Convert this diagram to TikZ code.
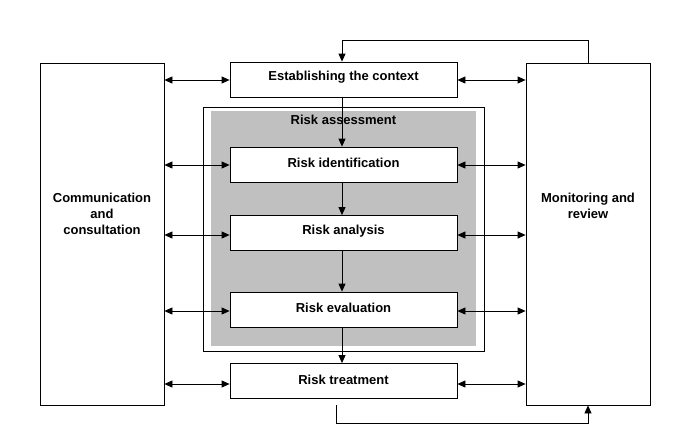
\documentclass[tikz,border=0pt]{standalone}
\usepackage{fontspec}
\setmainfont{Liberation Sans}
\usetikzlibrary{arrows.meta,positioning}
\definecolor{raGray}{RGB}{192,192,192}
\tikzset{
  x=1pt,y=-1pt,
  ln/.style={line width=0.8pt},
  box/.style={draw,ln,fill=white,minimum width=227pt,minimum height=35pt,inner sep=0pt},
  side/.style={draw,ln,fill=white,minimum width=124pt,minimum height=342pt,inner sep=0pt},
  txt/.style={font=\bfseries\fontsize{13}{16}\selectfont,align=center,inner sep=0pt},
  tip/.style={-{Triangle[length=8pt,width=7pt]}},
  dbl/.style={{Triangle[length=8pt,width=7pt]}-{Triangle[length=8pt,width=7pt]}},
}
\begin{document}
\begin{tikzpicture}
\useasboundingbox (0,0) rectangle (689,445);
\fill[white] (0,0) rectangle (689,445);
% risk assessment frame
\node[draw,ln,fill=white,minimum width=281pt,minimum height=244pt,inner sep=0pt] (raout) at (343.5,229) {};
\node[fill=raGray,minimum width=265pt,minimum height=235pt,inner sep=0pt] (ragray) at (343.5,228.5) {};
\node[txt] (ratxt) at (343.5,120) {Risk assessment};
% side boxes
\node[side] (comm) at (102,234) {};
\node[txt] (commtxt) at (102,214) {Communication\\and\\consultation};
\node[side] (mon) at (588,234) {};
\node[txt] (montxt) at (588,206) {Monitoring and\\review};
% process boxes
\node[box] (est) at (343.5,79.5) {};
\node[txt] (esttxt) at (343.5,77) {Establishing the context};
\node[box] (ident) at (343.5,164.5) {};
\node[txt] (identtxt) at (343.5,162.5) {Risk identification};
\node[box] (anal) at (343.5,233) {};
\node[txt] (analtxt) at (343.5,231.5) {Risk analysis};
\node[box] (eval) at (343.5,309.5) {};
\node[txt] (evaltxt) at (343.5,307.5) {Risk evaluation};
\node[box] (treat) at (343.5,381) {};
\node[txt] (treattxt) at (343.5,379.5) {Risk treatment};
% vertical flow
\draw[ln,tip] (est.south -| 342,0) -- (ident.north -| 342,0);
\draw[ln,tip] (ident.south -| 342,0) -- (anal.north -| 342,0);
\draw[ln,tip] (anal.south -| 342,0) -- (eval.north -| 342,0);
\draw[ln,tip] (eval.south -| 342,0) -- (treat.north -| 342,0);
% double arrows
\foreach \n/\yy in {est/80,ident/165,anal/235,eval/311,treat/384}{
  \draw[ln,dbl] (comm.east |- 0,\yy) -- (\n.west |- 0,\yy);
  \draw[ln,dbl] (\n.east |- 0,\yy) -- (mon.west |- 0,\yy);
}
% feedback loops
\draw[ln,tip] (mon.north) -- (588,40) -- (342,40) -- (est.north -| 342,0);
\coordinate (tb) at (336,405);
\draw[ln,tip] (tb) -- (336,423) -- (mon.south |- 0,423) -- (mon.south);
\end{tikzpicture}
\end{document}
